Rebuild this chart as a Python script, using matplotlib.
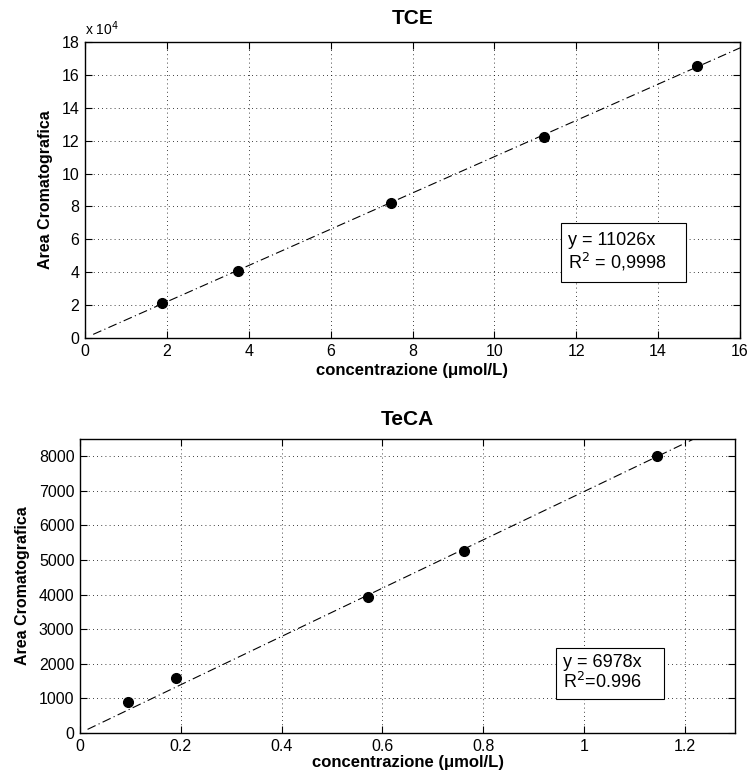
import matplotlib
matplotlib.use("Agg")
import matplotlib.pyplot as plt
from matplotlib.patches import Rectangle
from matplotlib.ticker import FuncFormatter
import numpy as np

plt.rcParams['font.family'] = ['Liberation Sans', 'DejaVu Sans']

# dati TCE
tce_x = [1.87, 3.74, 7.48, 11.22, 14.95]
tce_y = [21000, 41000, 82000, 122000, 165500]
tce_slope = 11026
tce_xticks = [0, 2, 4, 6, 8, 10, 12, 14, 16]
tce_yticks = [0, 20000, 40000, 60000, 80000, 100000, 120000, 140000, 160000, 180000]

# dati TeCA
teca_x = [0.095, 0.19, 0.572, 0.763, 1.145]
teca_y = [900, 1600, 3920, 5270, 8000]
teca_slope = 6978
teca_xticks = [0, 0.2, 0.4, 0.6, 0.8, 1.0, 1.2]
teca_yticks = [0, 1000, 2000, 3000, 4000, 5000, 6000, 7000, 8000]

fig = plt.figure(figsize=(7.53, 7.74), dpi=100)
W, H = 753, 774
ax1 = fig.add_axes([85 / W, 1 - 338 / H, 655 / W, 296 / H])
ax2 = fig.add_axes([80 / W, 1 - 733 / H, 655 / W, 294 / H])


def stile(ax):
    ax.grid(True, linestyle=(0, (1, 4)), color='black', linewidth=0.6)
    ax.tick_params(direction='in', top=True, right=True, length=5, width=0.8,
                   labelsize=11.5, pad=4)
    for s in ax.spines.values():
        s.set_linewidth(1.0)


# TCE
xl = np.array([0.2, 16])
ax1.plot(xl, tce_slope * xl, color='black', linestyle='-.', linewidth=0.8, dashes=(8, 3, 1, 3))
ax1.plot(tce_x, tce_y, 'o', color='black', markersize=7)
ax1.set_xlim(0, 16)
ax1.set_ylim(0, 180000)
ax1.set_xticks(tce_xticks)
ax1.set_yticks(tce_yticks)
ax1.yaxis.set_major_formatter(FuncFormatter(lambda v, p: '%d' % round(v / 1e4)))
stile(ax1)
ax1.text(0.0, 1.012, 'x 10$^4$', transform=ax1.transAxes, fontsize=10, ha='left', va='bottom')
ax1.set_title('TCE', fontsize=15, fontweight='bold', pad=13)
ax1.set_xlabel('concentrazione (\u03bcmol/L)', fontsize=12, fontweight='bold', labelpad=3)
ax1.set_ylabel('Area Cromatografica', fontsize=11.5, fontweight='bold', labelpad=6)
ax1.add_patch(Rectangle((0.727, 0.189), 0.191, 0.2, transform=ax1.transAxes,
                        facecolor='white', edgecolor='black', linewidth=0.8, zorder=5))
ax1.text(0.738, 0.331, 'y = 11026x', transform=ax1.transAxes, fontsize=13,
         va='center', zorder=6)
ax1.text(0.738, 0.257, 'R$^2$ = 0,9998', transform=ax1.transAxes, fontsize=13,
         va='center', zorder=6)

# TeCA
xl2 = np.array([0.015, 8500 / teca_slope])
ax2.plot(xl2, teca_slope * xl2, color='black', linestyle='-.', linewidth=0.8, dashes=(8, 3, 1, 3))
ax2.plot(teca_x, teca_y, 'o', color='black', markersize=7)
ax2.set_xlim(0, 1.3)
ax2.set_ylim(0, 8500)
ax2.set_xticks(teca_xticks)
ax2.set_xticklabels(['0', '0.2', '0.4', '0.6', '0.8', '1', '1.2'])
ax2.set_yticks(teca_yticks)
stile(ax2)
ax2.set_title('TeCA', fontsize=15, fontweight='bold', pad=10)
ax2.set_xlabel('concentrazione (\u03bcmol/L)', fontsize=12, fontweight='bold', labelpad=1)
ax2.set_ylabel('Area Cromatografica', fontsize=11.5, fontweight='bold', labelpad=6)
ax2.add_patch(Rectangle((0.727, 0.116), 0.165, 0.173, transform=ax2.transAxes,
                        facecolor='white', edgecolor='black', linewidth=0.8, zorder=5))
ax2.text(0.738, 0.241, 'y = 6978x', transform=ax2.transAxes, fontsize=13,
         va='center', zorder=6)
ax2.text(0.738, 0.173, 'R$^2$=0.996', transform=ax2.transAxes, fontsize=13,
         va='center', zorder=6)

fig.savefig('out.png', dpi=100)
